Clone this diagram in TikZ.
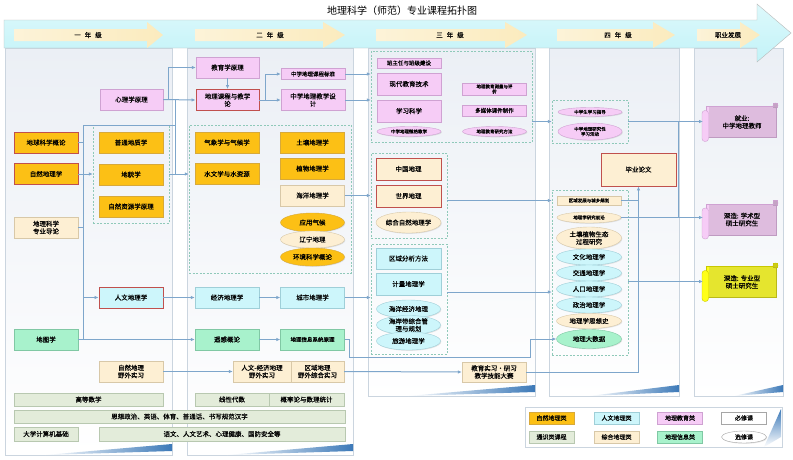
\documentclass[tikz,border=0pt]{standalone}
\usepackage{fontspec}
\newfontfamily\cjk[FakeBold=0.4]{Noto Sans CJK SC}
\newfontfamily\cjkt{Noto Sans CJK SC}
\usetikzlibrary{arrows.meta,shapes.geometric,shadows}
\definecolor{natc}{HTML}{FCC015}\definecolor{natb}{HTML}{D7A93A}
\definecolor{humc}{HTML}{CDF6FB}\definecolor{humb}{HTML}{9FCFD8}
\definecolor{educ}{HTML}{F6CCF6}\definecolor{edub}{HTML}{CFA2D2}
\definecolor{genc}{HTML}{E3ECDA}\definecolor{genb}{HTML}{B8C8B0}
\definecolor{sync}{HTML}{FDEFD3}\definecolor{synb}{HTML}{D8C8A8}
\definecolor{gisc}{HTML}{A8F2CC}\definecolor{gisb}{HTML}{80C8A4}
\definecolor{keyr}{HTML}{C0504D}
\definecolor{lnc}{HTML}{7EA6CB}
\definecolor{grpc}{HTML}{8FC9B9}
\definecolor{panc}{HTML}{EBEFF5}
\definecolor{panb}{HTML}{CBD5DF}
\definecolor{hdrc}{HTML}{C2F3F8}
\definecolor{yrc}{HTML}{FBEBBE}
\definecolor{wedgec}{HTML}{3C79B8}
\definecolor{ylw}{HTML}{FFFF1A}\definecolor{ylwb}{HTML}{C8C800}
\tikzset{
 nb/.style={inner sep=0pt, align=center, font=\cjk\fontsize{6.5}{7.5}\selectfont, drop shadow={shadow xshift=0.8pt, shadow yshift=-0.8pt, opacity=0.2}},
 mw/.style={minimum width=#1}, mh/.style={minimum height=#1},
 rb/.style={nb, rectangle},
 el/.style={nb, ellipse},
 nat/.style={fill=natc, draw=natb},
 hum/.style={fill=humc, draw=humb},
 edu/.style={fill=educ, draw=edub},
 gen/.style={fill=genc, draw=genb},
 syn/.style={fill=sync, draw=synb},
 gis/.style={fill=gisc, draw=gisb},
 core/.style={draw=keyr, line width=0.9pt},
 fsa/.style={font=\cjk\fontsize{4.5}{5}\selectfont},
 fsb/.style={font=\cjk\fontsize{5.5}{6.2}\selectfont},
 grp/.style={draw=grpc, dash pattern=on 2pt off 1.5pt, inner sep=0pt, rectangle},
 ln/.style={draw=lnc, line width=1pt},
 arr/.style={ln, -{Latex[length=4pt,width=3.5pt]}},
 yr/.style={font=\cjk\fontsize{6.5}{7}\selectfont},
 lg/.style={rb, mw=45, mh=12, font=\cjk\fontsize{6}{7}\selectfont},
}
\begin{document}
\begin{tikzpicture}[x=1pt,y=-1pt]
\useasboundingbox (0,0) rectangle (793,459);
\fill[white] (0,0) rectangle (793,459);
% panels
\foreach \a/\b/\c in {5/172/455,187/353/455,368/535/396,549/679/396,694/783/396}{
  \shadedraw[top color=panc, bottom color=white, draw=panb] (\a,48) rectangle (\b,\c);
  \shade[left color=white, right color=wedgec] (\a+40,\c) -- (\b,\c-11) -- (\b,\c-4) -- cycle;
}
% header band
\shadedraw[top color=hdrc!55!white, bottom color=hdrc, draw=gray!55] (4,20) -- (757,20) -- (757,4) -- (791,33) -- (757,62) -- (757,48) -- (4,48) -- cycle;
\foreach \a/\b/\c in {14/147/163,195/323/345,376/505/527,557/653/675,697/740/760}{
  \shade[left color=yrc!60!white, right color=yrc] (\a,29) -- (\b,29) -- (\b,22) -- (\c,35) -- (\b,48) -- (\b,41) -- (\a,41) -- cycle;
}
\node[font=\cjkt\fontsize{10}{12}\selectfont] (title) at (402,11) {地理科学（师范）专业课程拓扑图};
\node[yr] (y1) at (88,35) {一\hspace{4pt}年\hspace{4pt}级};
\node[yr] (y2) at (270,35) {二\hspace{4pt}年\hspace{4pt}级};
\node[yr] (y3) at (450,35) {三\hspace{4pt}年\hspace{4pt}级};
\node[yr] (y4) at (618,35) {四\hspace{4pt}年\hspace{4pt}级};
\node[yr] (y5) at (728,35) {职业发展};
% groups
\node[grp, mw=76, mh=98] (g1) at (131,174) {};
\node[grp, mw=162, mh=148] (g2) at (270,199) {};
\node[grp, mw=161, mh=91] (g3t) at (451.5,96.5) {};
\node[grp, mw=76, mh=85] (g3m) at (409,195.5) {};
\node[grp, mw=76, mh=110] (g3b) at (409,299) {};
\node[grp, mw=76, mh=43] (g4t) at (590,121.5) {};
\node[grp, mw=76, mh=165] (g4b) at (590,272.5) {};
% column 1
\node[rb, edu, mw=63, mh=21] (xl) at (131.5,99.5) {心理学原理};
\node[rb, nat, core, mw=64, mh=21] (dq) at (46,142.5) {地球科学概论};
\node[rb, nat, core, mw=64, mh=21] (zr) at (46,174) {自然地理学};
\node[rb, syn, mw=64, mh=21] (dl) at (46,227.5) {地理科学\\专业导论};
\node[rb, nat, mw=64, mh=21] (pt) at (131,142.5) {普通地质学};
\node[rb, nat, mw=64, mh=21] (dm) at (131,174.5) {地貌学};
\node[rb, nat, mw=64, mh=21] (zy) at (131,206.5) {自然资源学原理};
\node[rb, hum, core, mw=64, mh=21] (rw) at (131,297.5) {人文地理学};
\node[rb, gis, mw=64, mh=21] (dt) at (46,339.5) {地图学};
\node[rb, syn, mw=64, mh=21] (ys) at (131,371.5) {自然地理\\野外实习};
\node[rb, gen, mw=149, mh=13] (gs) at (88.5,399.5) {高等数学};
\node[rb, gen, mw=331, mh=13] (sz) at (179.5,416.5) {思想政治、英语、体育、普通话、书写规范汉字};
\node[rb, gen, mw=64, mh=14] (jsj) at (46,434) {大学计算机基础};
\node[rb, gen, mw=246, mh=14] (yw) at (222,434) {语文、人文艺术、心理健康、国防安全等};
% column 2
\node[rb, edu, mw=63, mh=21] (jy) at (227.5,67.5) {教育学原理};
\node[rb, edu, core, mw=63, mh=21] (kc) at (227.5,100) {地理课程与教学\\论};
\node[rb, edu, fsb, mw=64, mh=11] (bz) at (313,74) {中学地理课程标准};
\node[rb, edu, mw=64, mh=21] (sj) at (313,100) {中学地理教学设\\计};
\node[rb, nat, mw=64, mh=21] (qx) at (227,142.5) {气象学与气候学};
\node[rb, nat, mw=64, mh=21] (sw) at (227,174) {水文学与水资源};
\node[rb, nat, mw=64, mh=21] (tr) at (312.5,142.5) {土壤地理学};
\node[rb, nat, mw=64, mh=21] (zw) at (312.5,168.5) {植物地理学};
\node[rb, syn, mw=64, mh=21] (hy) at (312.5,195.5) {海洋地理学};
\node[el, nat, mw=64, mh=19] (yq) at (312.5,222.5) {应用气候};
\node[el, syn, mw=64, mh=17] (lnn) at (312.5,239.5) {辽宁地理};
\node[el, nat, mw=64, mh=18] (hj) at (312.5,257) {环境科学概论};
\node[rb, hum, mw=64, mh=21] (jj) at (227,297.5) {经济地理学};
\node[rb, hum, mw=64, mh=21] (cs) at (312.5,297.5) {城市地理学};
\node[rb, gis, mw=64, mh=21] (yg) at (227,339.5) {遥感概论};
\node[rb, gis, fsb, mw=64, mh=21] (gisy) at (312.5,339.5) {地理信息系统原理};
\node[rb, syn, mw=58, mh=21] (rs) at (262,371.5) {人文-经济地理\\野外实习};
\node[rb, syn, mw=53, mh=21] (qy) at (317.5,371.5) {区域地理\\野外综合实习};
\node[rb, gen, mw=74, mh=13] (xd) at (232,399.5) {线性代数};
\node[rb, gen, mw=75, mh=13] (gl) at (306.5,399.5) {概率论与数理统计};
% column 3
\node[rb, edu, fsb, mw=64, mh=10] (bzr) at (409,63) {班主任与班级建设};
\node[rb, edu, mw=64, mh=22] (xdjy) at (409,84) {现代教育技术};
\node[rb, edu, mw=64, mh=22] (xx) at (409,111) {学习科学};
\node[el, edu, fsa, mw=64, mh=10] (wg) at (409,131.5) {中学地理微格教学};
\node[rb, edu, fsa, mw=64, mh=12] (pj) at (494.5,89) {地理教育测量与评\\价};
\node[rb, edu, fsb, mw=64, mh=11] (dmt) at (494.5,110.5) {多媒体课件制作};
\node[el, edu, fsa, mw=64, mh=10] (yf) at (494.5,131.5) {地理教育研究方法};
\node[rb, syn, core, mw=65, mh=22] (zg) at (408.5,169) {中国地理};
\node[rb, syn, core, mw=65, mh=22] (sjdl) at (408.5,196) {世界地理};
\node[el, syn, mw=65, mh=21] (zh) at (408.5,222.5) {综合自然地理学};
\node[rb, hum, mw=65, mh=21] (qyfx) at (408.5,258.5) {区域分析方法};
\node[rb, hum, mw=65, mh=22] (jl) at (408.5,284) {计量地理学};
\node[el, hum, mw=64, mh=18] (hyjj) at (408.5,309) {海洋经济地理};
\node[el, hum, mw=64, mh=18] (had) at (408.5,325) {海岸带综合管\\理与规划};
\node[el, hum, mw=64, mh=18] (ly) at (408.5,341) {旅游地理学};
\node[rb, syn, mw=64, mh=20] (sx) at (494,372) {教育实习·研习\\教学技能大赛};
% column 4
\node[el, edu, fsa, mw=64, mh=9] (c4a) at (590,112) {中学生学习指导};
\node[el, edu, fsa, mw=64, mh=17] (c4b) at (590,131.5) {中学地理研究性\\学习活动};
\node[rb, syn, core, mw=75, mh=33] (lw) at (638.5,169.5) {毕业论文};
\node[rb, syn, fsa, mw=64, mh=9] (qyb) at (589,200.5) {区域发展与城乡规划};
\node[el, syn, fsa, mw=64, mh=11] (qy2) at (589,217.5) {地理学研究前沿};
\node[el, syn, mw=65, mh=22] (trz) at (589,238) {土壤植物生态\\过程研究};
\node[el, hum, mw=65, mh=16] (wh) at (589,257) {文化地理学};
\node[el, hum, mw=65, mh=16] (jt) at (589,273) {交通地理学};
\node[el, hum, mw=65, mh=16] (rk) at (589,289) {人口地理学};
\node[el, hum, mw=65, mh=16] (zz) at (589,305) {政治地理学};
\node[el, syn, mw=65, mh=15] (sxs) at (589,321) {地理学思想史};
\node[el, gis, mw=65, mh=19] (dsj) at (589,339) {地理大数据};
% column 5 scrolls
\foreach \cy/\fc/\dc in {121.5/educ/edub, 219/educ/edub, 281.5/ylw/ylwb}{
 \begin{scope}[shift={(739.5,\cy)}]
  \filldraw[fill=\fc, draw=\dc, drop shadow={shadow xshift=0.8pt, shadow yshift=-0.8pt, opacity=0.2}] (-33,-15) rectangle (37,16);
  \filldraw[fill=\fc, draw=\dc] (34,-18.5) -- (38,-18.5) -- (38,-14) -- (34,-14) -- cycle;
  \filldraw[fill=\fc!80!black, draw=\dc] (36,-16) circle (2.5);
  \filldraw[fill=\fc, draw=\dc, rounded corners=3] (-37.5,-11) rectangle (-31,20);
 \end{scope}
}
\node[nb, drop shadow={opacity=0}, mw=68, mh=31] (job) at (742,122) {就业:\\中学地理教师};
\node[nb, drop shadow={opacity=0}, mw=68, mh=31] (ss1) at (742,219.5) {深造:\hspace{2pt}学术型\\硕士研究生};
\node[nb, drop shadow={opacity=0}, mw=68, mh=31] (ss2) at (742,282) {深造:\hspace{2pt}专业型\\硕士研究生};
\coordinate (jobin) at (703,121.5);
\coordinate (ss1in) at (703,217.5);
\coordinate (ss2in) at (703,281.5);
% connectors
\coordinate (b1) at (83,125);
\coordinate (b2) at (83,339.5);
\coordinate (v1) at (175,125);
\coordinate (v2) at (175,100);
\draw[ln] (dq.east) -- (dq.east -| b1);
\draw[ln] (dl.east) -- (dl.east -| b1);
\draw[ln] (b1) -- (b2);
\draw[ln] (b1) -- (v1);
\draw[ln] (v2) -- (v2 |- g1.east);
\draw[arr] (xl.east) -- ++(5,0) |- (jy.west);
\draw[arr] (xl.east) -- (kc.west);
\draw[arr] (zr.east) -- (zr.east -| g1.west);
\draw[arr] (g1.east) -- (g1.east -| g2.west);
\draw[arr] (rw.west -| b1) -- (rw.west);
\draw[arr] (dt.east) -- (yg.west);
\draw[arr] (jy.south) -- (kc.north);
\draw[arr] (kc.east) -- ++(6,0) |- (bz.west);
\draw[arr] (kc.east) -- (sj.west);
\draw[arr] (bz.east) -- (bz.east -| g3t.west);
\draw[arr] (sj.east) -- (sj.east -| g3t.west);
\draw[arr] (hy.east) -- (hy.east -| g3m.west);
\draw[arr] (g3m.east |- qyb) -- (g4b.west |- qyb);
\draw[arr] (rw.east) -- (jj.west);
\draw[arr] (jj.east) -- (cs.west);
\draw[arr] (cs.east) -- (cs.east -| g3b.west);
\coordinate (m3) at (447,292);
\draw[arr] (m3) -- (m3 -| g4b.west);
\draw[arr] (yg.east) -- (gisy.west);
\coordinate (k1) at (530,357);
\draw[arr] (gisy.east) -- ++(5,0) |- (k1) |- (dsj.west);
\draw[arr] (ys.east) -- (rs.west);
\draw[arr] (qy.east) -- (sx.west);
\draw[arr] (sx.east) -| (lw.south);
\draw[ln] (qyb.east) -- (qyb.east -| lw.south);
\draw[arr] (g3t.east |- g4t.west) -- (g4t.west);
\draw[arr] (g4t.east) -- (jobin);
\coordinate (v3) at (678,121.5);
\draw[ln] (v3) -- (v3 |- qy2.east);
\draw[arr] (qy2.east) -- (ss1in);
\draw[arr] (g4b.east |- ss2in) -- (ss2in);
% legend
\draw[draw=panb, fill=white] (525,407) rectangle (782,447);
\shade[bottom color=white, top color=wedgec] (764,447) -- (781,409) -- (781,437) -- cycle;
\node[lg, nat] (l1) at (551.5,418) {自然地理类};
\node[lg, hum] (l2) at (616.5,418) {人文地理类};
\node[lg, edu] (l3) at (680,418) {地理教育类};
\node[lg, fill=white, draw=gray!70] (l4) at (744,418) {必修课};
\node[lg, gen] (l5) at (551.5,437) {通识类课程};
\node[lg, syn] (l6) at (616.5,437) {综合地理类};
\node[lg, gis] (l7) at (680,437) {地理信息类};
\node[lg, ellipse, fill=white, draw=gray!70] (l8) at (744,437) {选修课};
\end{tikzpicture}
\end{document}
